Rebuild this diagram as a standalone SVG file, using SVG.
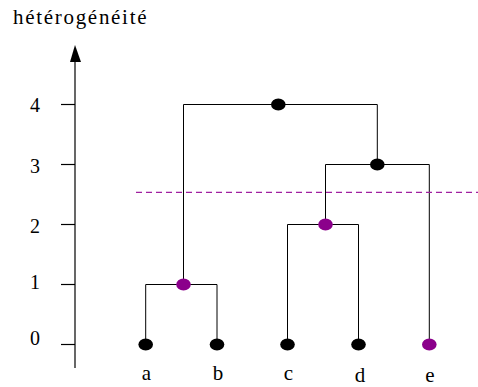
<svg xmlns="http://www.w3.org/2000/svg" width="478" height="387" viewBox="0 0 478 387">
<style>
.t{font-size:20px;text-anchor:middle}
.l{font-size:21px;text-anchor:middle}
.e{stroke:#000;stroke-width:1;fill:none}
.ax{stroke:#000;stroke-width:1.2;fill:none}
.blk{fill:#000}
.pur{fill:#8b008b}
</style>
<rect width="478" height="387" fill="#fff"/>
<g font-family="'Liberation Serif', 'Times New Roman', serif" fill="#000">
<text x="13" y="24" font-size="21" letter-spacing="1.7">hétérogénéité</text>
<g id="axis">
<line class="ax" x1="75" y1="368" x2="75" y2="60"/>
<polygon points="75,45 70,62 81,62" fill="#000"/>
<line class="ax" x1="61" y1="104.5" x2="75" y2="104.5"/>
<line class="ax" x1="61" y1="164.5" x2="75" y2="164.5"/>
<line class="ax" x1="61" y1="224.5" x2="75" y2="224.5"/>
<line class="ax" x1="61" y1="284.5" x2="75" y2="284.5"/>
<line class="ax" x1="61" y1="344.5" x2="75" y2="344.5"/>
<text class="t" x="35" y="112">4</text>
<text class="t" x="35" y="173">3</text>
<text class="t" x="35" y="233">2</text>
<text class="t" x="35" y="289">1</text>
<text class="t" x="35" y="345">0</text>
</g>
<g id="connectors">
<polyline class="e" points="145.7,344.5 145.7,284.5 217,284.5 217,344.5"/>
<polyline class="e" points="287.5,344.5 287.5,224.5 358.5,224.5 358.5,344.5"/>
<polyline class="e" points="325.5,224.5 325.5,164.5 429.3,164.5 429.3,344.5"/>
<polyline class="e" points="183.5,284.5 183.5,104.5 377.3,104.5 377.3,164.5"/>
<line x1="136" y1="192.3" x2="478" y2="192.3" stroke="#a020a0" stroke-width="1.2" stroke-dasharray="6,4"/>
</g>
<g id="a"><ellipse class="blk" cx="145.7" cy="344.5" rx="7.3" ry="6"/><text class="l" x="146.5" y="380">a</text></g>
<g id="b"><ellipse class="blk" cx="217" cy="344.5" rx="7.3" ry="6"/><text class="l" x="218" y="380">b</text></g>
<g id="c"><ellipse class="blk" cx="287.5" cy="344.5" rx="7.3" ry="6"/><text class="l" x="288.5" y="380">c</text></g>
<g id="d"><ellipse class="blk" cx="358.5" cy="344.5" rx="7.3" ry="6"/><text class="l" x="360" y="382">d</text></g>
<g id="e"><ellipse class="pur" cx="429.3" cy="344.5" rx="7.3" ry="6"/><text class="l" x="430" y="382">e</text></g>
<g id="ab"><ellipse class="pur" cx="183.5" cy="284.5" rx="7.3" ry="6"/></g>
<g id="cd"><ellipse class="pur" cx="325.5" cy="224.5" rx="7.3" ry="6"/></g>
<g id="cde"><ellipse class="blk" cx="377.3" cy="164.5" rx="7.3" ry="6"/></g>
<g id="root"><ellipse class="blk" cx="278.3" cy="104.5" rx="7.3" ry="6"/></g>
</g>
</svg>
